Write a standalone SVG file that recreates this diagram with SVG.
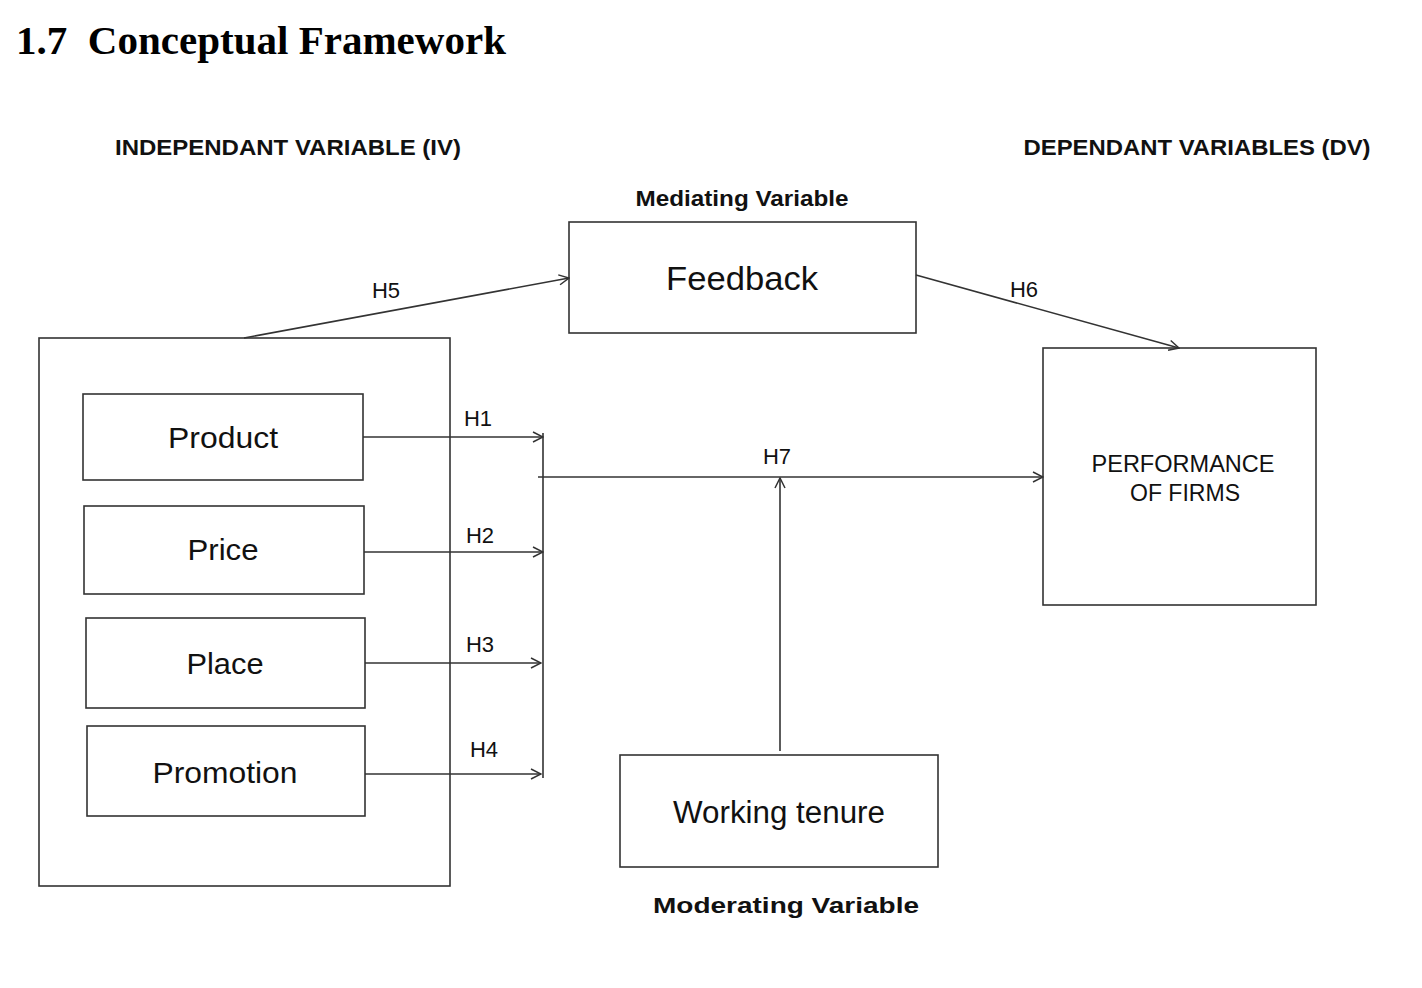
<svg xmlns="http://www.w3.org/2000/svg" width="1422" height="988" viewBox="0 0 1422 988">
<defs>
<marker id="arr" viewBox="0 0 12 12" refX="11" refY="6" markerWidth="12" markerHeight="12" markerUnits="userSpaceOnUse" orient="auto">
<path d="M1,1 L11,6 L1,11" fill="none" stroke="#333" stroke-width="1.5"/>
</marker>
<style>
.box{fill:#fff;stroke:#333;stroke-width:1.6}
.ln{fill:none;stroke:#333;stroke-width:1.6}
.t{font-family:"Liberation Sans",Arial,sans-serif;fill:#111;text-anchor:middle}
.hd{font-family:"Liberation Sans",Arial,sans-serif;font-weight:bold;fill:#111;text-anchor:middle;font-size:22px}
.h{font-family:"Liberation Sans",Arial,sans-serif;fill:#111;text-anchor:middle;font-size:22px}
</style>
</defs>
<rect width="1422" height="988" fill="#fff"/>
<text x="16" y="54" font-family="Liberation Serif,'Times New Roman',serif" font-weight="bold" font-size="40" fill="#000" textLength="490" lengthAdjust="spacingAndGlyphs" xml:space="preserve">1.7  Conceptual Framework</text>
<text class="hd" x="288" y="155" textLength="346" lengthAdjust="spacingAndGlyphs">INDEPENDANT VARIABLE (IV)</text>
<text class="hd" x="1197" y="155" textLength="347" lengthAdjust="spacingAndGlyphs">DEPENDANT VARIABLES (DV)</text>
<text class="hd" x="742" y="206" textLength="213" lengthAdjust="spacingAndGlyphs">Mediating Variable</text>
<text class="hd" x="786" y="913" font-size="25" textLength="266" lengthAdjust="spacingAndGlyphs">Moderating Variable</text>

<g id="iv-group"><rect class="box" x="39" y="338" width="411" height="548"/></g>
<g id="feedback"><rect class="box" x="569" y="222" width="347" height="111"/><text class="t" x="742" y="290" font-size="33" textLength="152" lengthAdjust="spacingAndGlyphs">Feedback</text></g>
<g id="performance"><rect class="box" x="1043" y="348" width="273" height="257"/><text class="t" x="1183" y="472" font-size="23" textLength="183" lengthAdjust="spacingAndGlyphs">PERFORMANCE</text><text class="t" x="1185" y="501" font-size="23" textLength="110" lengthAdjust="spacingAndGlyphs">OF FIRMS</text></g>
<g id="working-tenure"><rect class="box" x="620" y="755" width="318" height="112"/><text class="t" x="779" y="823" font-size="31" textLength="212" lengthAdjust="spacingAndGlyphs">Working tenure</text></g>

<g id="connectors">
<line class="ln" x1="244" y1="338" x2="569" y2="278" marker-end="url(#arr)"/>
<line class="ln" x1="916" y1="275" x2="1179" y2="348" marker-end="url(#arr)"/>
<line class="ln" x1="363" y1="437" x2="543" y2="437" marker-end="url(#arr)"/>
<line class="ln" x1="364" y1="552" x2="543" y2="552" marker-end="url(#arr)"/>
<line class="ln" x1="365" y1="663" x2="541" y2="663" marker-end="url(#arr)"/>
<line class="ln" x1="365" y1="774" x2="541" y2="774" marker-end="url(#arr)"/>
<line class="ln" x1="543" y1="433" x2="543" y2="778"/>
<line class="ln" x1="538" y1="477" x2="1043" y2="477" marker-end="url(#arr)"/>
<line class="ln" x1="780" y1="751" x2="780" y2="478" marker-end="url(#arr)"/>
<text class="h" x="386" y="298">H5</text>
<text class="h" x="1024" y="297">H6</text>
<text class="h" x="478" y="426">H1</text>
<text class="h" x="480" y="543">H2</text>
<text class="h" x="480" y="652">H3</text>
<text class="h" x="484" y="757">H4</text>
<text class="h" x="777" y="464">H7</text>
</g>

<g id="product"><rect class="box" x="83" y="394" width="280" height="86"/><text class="t" x="223" y="448" font-size="30" textLength="110" lengthAdjust="spacingAndGlyphs">Product</text></g>
<g id="price"><rect class="box" x="84" y="506" width="280" height="88"/><text class="t" x="223" y="560" font-size="30" textLength="71" lengthAdjust="spacingAndGlyphs">Price</text></g>
<g id="place"><rect class="box" x="86" y="618" width="279" height="90"/><text class="t" x="225" y="674" font-size="30" textLength="77" lengthAdjust="spacingAndGlyphs">Place</text></g>
<g id="promotion"><rect class="box" x="87" y="726" width="278" height="90"/><text class="t" x="225" y="783" font-size="30" textLength="145" lengthAdjust="spacingAndGlyphs">Promotion</text></g>
</svg>
